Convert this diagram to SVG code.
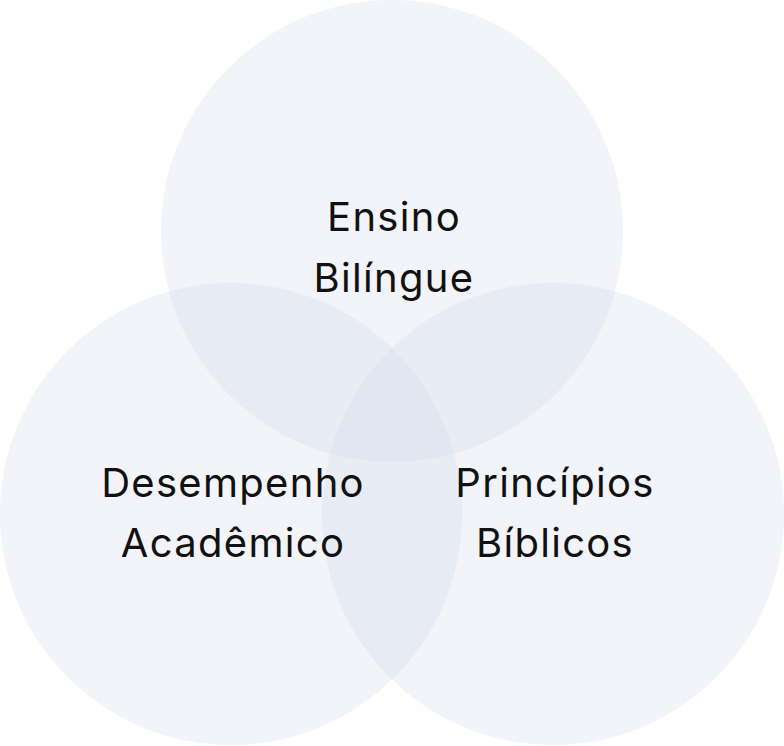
<svg xmlns="http://www.w3.org/2000/svg" width="784" height="746" viewBox="0 0 784 746">
<style>
.c{fill:#cdd5e6;fill-opacity:0.25}
.t{font-family:Inter,"Liberation Sans",sans-serif;font-size:40px;letter-spacing:1.3px;fill:#111111;text-anchor:middle}
</style>
<rect width="784" height="746" fill="#ffffff"/>
<g id="circles">
<circle class="c" cx="392" cy="231" r="231"/>
<circle class="c" cx="231" cy="514" r="231"/>
<circle class="c" cx="553" cy="514" r="231"/>
</g>
<g id="top">
<text class="t" x="394" y="231">Ensino</text>
<text class="t" x="394" y="292">Bilíngue</text>
</g>
<g id="left">
<text class="t" x="233" y="497">Desempenho</text>
<text class="t" x="233" y="557">Acadêmico</text>
</g>
<g id="right">
<text class="t" x="555" y="497">Princípios</text>
<text class="t" x="555" y="557">Bíblicos</text>
</g>
<g id="connectors"></g>
</svg>
